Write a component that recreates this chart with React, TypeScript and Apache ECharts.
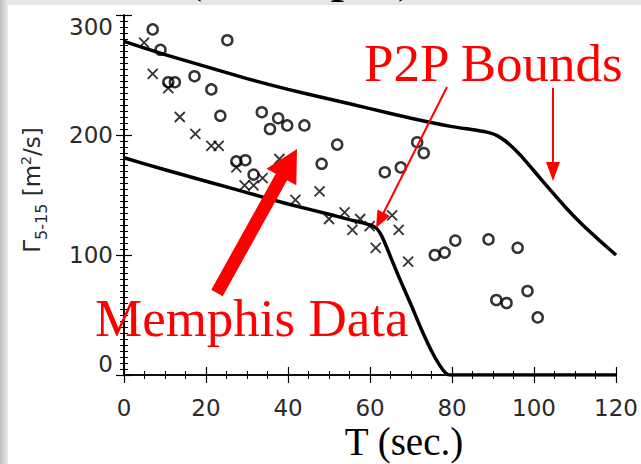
import React, { useEffect, useRef } from "react";
import * as echarts from "echarts";

// ---- data ----
const xTicks = [0, 20, 40, 60, 80, 100, 120];
const yTicks = [0, 100, 200, 300];

// upper P2P bound
const upperT = [0, 10, 20, 30, 40, 50, 60, 70, 80, 86, 89, 91, 93, 95, 97, 100, 104, 108, 112, 116, 120];
const upperV = [278, 267, 257, 247, 238, 230, 222, 214, 207, 204, 202, 199.5, 195, 189, 182, 170, 154, 138.5, 124.5, 112, 100];

// lower P2P bound
const lowerT = [0, 10, 20, 30, 40, 50, 55, 58, 60, 61.5, 62.5, 63.5, 65, 67, 70, 72.6, 75, 77, 78.5, 79.5, 120];
const lowerV = [181, 171, 161.5, 152, 142.5, 134, 129.5, 127, 125, 122.5, 118, 111, 98.5, 82, 58.5, 37.5, 20, 8, 1.5, 0, 0];

// Memphis data, circles
const circleT = [7.0, 8.9, 25.2, 10.8, 12.4, 17.2, 21.3, 23.5, 33.6, 37.6, 35.6, 39.8, 44.0, 52.0, 48.2, 27.4, 29.6, 31.6, 71.5, 73.1, 63.6, 67.5, 75.8, 78.2, 80.8, 88.9, 96.0, 90.8, 93.3, 98.4, 100.9];
const circleV = [288, 271, 279, 244, 244, 249, 238, 216, 219, 214, 205, 208, 208, 192, 176, 178, 179, 167, 194, 185, 169, 173, 100, 102, 112, 113, 106, 62.5, 60, 70, 48];

// Memphis data, crosses
const crossT = [4.9, 7.0, 10.8, 13.6, 17.4, 21.3, 23.1, 27.4, 29.4, 31.6, 33.8, 37.9, 41.8, 47.7, 50.0, 53.8, 55.7, 57.6, 59.9, 61.4, 65.4, 67.0, 69.3];
const crossV = [277, 251, 239, 215, 201, 191, 191, 173, 158, 158, 164, 180, 146, 153, 130, 135.5, 121, 130, 124, 106, 133, 121, 94.5];

const zip = (a: number[], b: number[]) => a.map((v, i) => [v, b[i]]);

const SANS = "DejaVu Sans";
const SERIF = "Liberation Serif";

export default function App() {
  const ref = useRef<HTMLDivElement>(null);
  useEffect(() => {
    if (!ref.current) return;
    const chart = echarts.init(ref.current, null, { renderer: "svg" });

    const axisCommon = {
      type: "value" as const,
      axisLine: { show: true, lineStyle: { color: "#000", width: 1.6 } },
      axisTick: { show: true, inside: true, length: 8, lineStyle: { color: "#000", width: 1.2 } },
      minorTick: { show: true, length: 4, lineStyle: { color: "#000", width: 1 } },
      splitLine: { show: false },
      minorSplitLine: { show: false },
    };

    const option: any = {
      animation: false,
      backgroundColor: "#fff",
      grid: { left: 124, right: 23, top: 15, bottom: 89, containLabel: false },
      xAxis: [
        {
          ...axisCommon,
          position: "bottom",
          min: xTicks[0],
          max: xTicks[xTicks.length - 1],
          interval: 20,
          minorTick: { ...axisCommon.minorTick, splitNumber: 4 },
          axisLabel: { color: "#2a2a2a", fontFamily: SANS, fontSize: 23, margin: 21 },
        },
        {
          ...axisCommon,
          position: "top",
          min: xTicks[0],
          max: xTicks[xTicks.length - 1],
          interval: 20,
          minorTick: { ...axisCommon.minorTick, splitNumber: 4 },
          axisLabel: { show: false },
        },
      ],
      yAxis: [
        {
          ...axisCommon,
          position: "left",
          min: yTicks[0],
          max: yTicks[yTicks.length - 1],
          interval: 100,
          minorTick: { ...axisCommon.minorTick, splitNumber: 20 },
          axisLabel: {
            color: "#2a2a2a",
            fontFamily: SANS,
            fontSize: 23,
            margin: 11,
            verticalAlignMaxLabel: "top",
            verticalAlignMinLabel: "bottom",
          },
        },
        {
          ...axisCommon,
          position: "right",
          min: yTicks[0],
          max: yTicks[yTicks.length - 1],
          interval: 100,
          minorTick: { ...axisCommon.minorTick, splitNumber: 20 },
          axisLabel: { show: false },
        },
      ],
      series: [
        {
          type: "line",
          data: zip(upperT, upperV),
          showSymbol: false,
          smooth: 0.2,
          lineStyle: { color: "#000", width: 3.5 },
          z: 3,
        },
        {
          type: "line",
          data: zip(lowerT, lowerV),
          showSymbol: false,
          smooth: 0.2,
          lineStyle: { color: "#000", width: 3.5 },
          z: 3,
        },
        {
          type: "scatter",
          data: zip(circleT, circleV),
          symbol: "circle",
          symbolSize: 10,
          itemStyle: { color: "rgba(0,0,0,0)", borderColor: "#000", borderWidth: 2.5 },
          z: 4,
        },
        {
          type: "scatter",
          data: zip(crossT, crossV),
          symbol: "path://M0,0L10,10M10,0L0,10",
          symbolSize: 10,
          itemStyle: { color: "rgba(0,0,0,0)", borderColor: "#000", borderWidth: 1.8 },
          z: 4,
        },
      ],
      graphic: [
        // page background strips
        {
          type: "rect",
          shape: { x: 0, y: 0, width: 641, height: 5 },
          style: { fill: "#e6e6e6" },
          z: 0,
        },
        {
          type: "rect",
          shape: { x: 0, y: 0, width: 8, height: 464 },
          style: {
            fill: new echarts.graphic.LinearGradient(0, 0, 1, 0, [
              { offset: 0, color: "#bdbdbd" },
              { offset: 1, color: "#e9e9e9" },
            ]),
          },
          z: 0,
        },
        // cut-off title at the very top (only its lower edge is visible, as in the reference)
        {
          type: "text",
          x: 184,
          y: -29,
          style: { text: "(Example)", fontFamily: SERIF, fontSize: 55, fill: "#000", align: "left", verticalAlign: "middle" },
          z: 10,
        },
        // y-axis title
        {
          type: "text",
          x: 32,
          y: 190,
          rotation: Math.PI / 2,
          style: {
            text: "{a|Γ}{sub|5-15}{a| [m}{sup|2}{a|/s]}",
            fontFamily: SANS,
            fontSize: 23,
            align: "center",
            verticalAlign: "middle",
            fill: "#2a2a2a",
            rich: {
              a: { fontFamily: SANS, fontSize: 23, fill: "#2a2a2a", lineHeight: 34, verticalAlign: "middle" },
              sub: { fontFamily: SANS, fontSize: 16, fill: "#2a2a2a", lineHeight: 34, verticalAlign: "bottom" },
              sup: { fontFamily: SANS, fontSize: 14, fill: "#2a2a2a", lineHeight: 34, verticalAlign: "top", padding: [4, 0, 0, 0] },
            },
          },
          z: 10,
        },
        // x-axis title
        {
          type: "text",
          x: 404,
          y: 441,
          style: { text: "T (sec.)", fontFamily: SERIF, fontSize: 39, fill: "#000", align: "center", verticalAlign: "middle" },
          z: 10,
        },
        // annotations
        {
          type: "text",
          x: 364,
          y: 63,
          style: { text: "P2P Bounds", fontFamily: SERIF, fontSize: 53, fill: "#ff0000", align: "left", verticalAlign: "middle" },
          z: 10,
        },
        {
          type: "text",
          x: 95,
          y: 318,
          style: { text: "Memphis Data", fontFamily: SERIF, fontSize: 53, fill: "#ff0000", align: "left", verticalAlign: "middle" },
          z: 10,
        },
        // thick arrow to the data
        {
          type: "polygon",
          shape: {
            points: [
              [297, 149],
              [296.3, 185.3],
              [287.1, 180.2],
              [222.7, 296.2],
              [211.3, 289.8],
              [275.7, 173.8],
              [266.5, 168.7],
            ],
          },
          style: { fill: "#ff0000" },
          z: 11,
        },
        // thin arrow to the lower bound
        {
          type: "line",
          shape: { x1: 447, y1: 87, x2: 382, y2: 216 },
          style: { stroke: "#ff0000", lineWidth: 2 },
          z: 11,
        },
        {
          type: "polygon",
          shape: { points: [[376, 228], [389.9, 216], [377.5, 209.6]] },
          style: { fill: "#ff0000" },
          z: 11,
        },
        // vertical arrow to the upper bound
        {
          type: "line",
          shape: { x1: 553, y1: 88, x2: 553, y2: 166 },
          style: { stroke: "#ff0000", lineWidth: 2 },
          z: 11,
        },
        {
          type: "polygon",
          shape: { points: [[553, 181], [546, 162], [560, 162]] },
          style: { fill: "#ff0000" },
          z: 11,
        },
      ],
    };

    chart.setOption(option);
    return () => chart.dispose();
  }, []);

  return (
    <div
      ref={ref}
      style={{ position: "absolute", left: 0, top: 0, width: 641, height: 464 }}
    />
  );
}
